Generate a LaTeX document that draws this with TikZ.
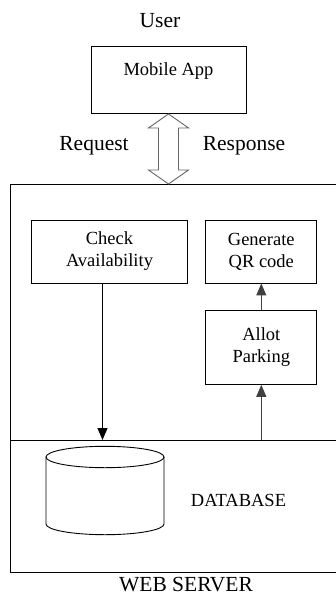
\documentclass[tikz,border=0pt]{standalone}
\usepackage{fontspec}
\setmainfont{Liberation Serif}
\usetikzlibrary{calc,arrows.meta}
\tikzset{
  boxnode/.style={draw, line width=0.9pt, align=center, inner sep=0pt,
    font=\fontsize{18.5}{22}\selectfont},
  bigtext/.style={font=\fontsize{21.5}{26}\selectfont, inner sep=0pt},
  flow/.style={-{Triangle[length=12pt,width=10pt]}, line width=1pt}
}

\begin{document}
\begin{tikzpicture}[x=1pt, y=1pt, line width=0.9pt]
        \useasboundingbox (0,0) rectangle (336,-597);
        \clip (0,0) rectangle (336,-597);

        \node[bigtext](user)     at (160,-21)  {User};
        \node[boxnode, minimum width=155pt, minimum height=67pt](app) at (168.5,-80) {Mobile App\\\mbox{}};
        \node[bigtext](request)  at (94,-146)  {Request};
        \node[bigtext](response) at (244,-146) {Response};

        % web server frame, its right side runs off the page
        \draw (345,-184) -- (10,-184) -- (10,-572) -- (345,-572);
        \coordinate(srvtop) at (app.south |- 0,-184);
        \draw (10,-440) -- (345,-440);
        \coordinate(divleft) at (10,-440);

        \node[boxnode, minimum width=155.5pt, minimum height=63pt](check) at (109.5,-251.5) {Check\\Availability};
        \node[boxnode, minimum width=111pt, minimum height=63pt](qr)     at (261.3,-251.5) {Generate\\QR code};
        \node[boxnode, minimum width=111pt, minimum height=73.7pt](allot) at (261.3,-347.5) {Allot\\Parking};

        % request / response arrow
        \draw[draw=black!60, fill=white, line width=0.9pt]
          (app.south) -- ++(-20,-14) -- ++(10,0) -- ($(srvtop)+(-10,14)$) -- ++(-10,0)
          -- (srvtop) -- ++(20,14) -- ++(-10,0) -- ($(app.south)+(10,-14)$) -- ++(10,0) -- cycle;

        \draw[flow] ([xshift=-7pt]check.south) -- ([xshift=-7pt]check.south |- divleft);
        \draw[flow, draw=black!75] (allot.south |- divleft) -- (allot.south);
        \draw[flow, draw=black!75] (allot.north) -- (qr.south);

        % database cylinder
        \coordinate(db) at (105,-490);
        \draw ($(db)+(-59,33)$) -- ($(db)+(-59,-34)$)
          arc[start angle=180, end angle=360, x radius=59, y radius=10.7]
          -- ($(db)+(59,33)$);
        \draw ($(db)+(0,33)$) ellipse[x radius=59, y radius=10.7];
        \node[boxnode, draw=none](database) at (238.5,-500) {DATABASE};

        \node[bigtext](webserver) at (186,-585) {WEB SERVER};
      \end{tikzpicture}
\end{document}
